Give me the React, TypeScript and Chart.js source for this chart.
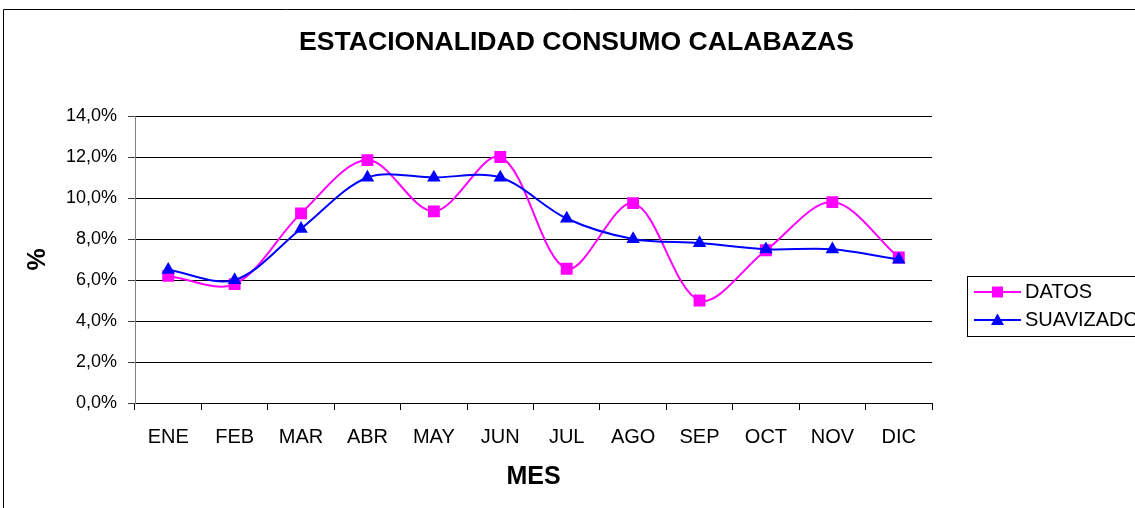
import React, { useEffect, useRef } from "react";
import { Chart, registerables } from "chart.js";

Chart.register(...registerables);

const TITLE = "ESTACIONALIDAD CONSUMO CALABAZAS";
const MONTHS = ["ENE", "FEB", "MAR", "ABR", "MAY", "JUN", "JUL", "AGO", "SEP", "OCT", "NOV", "DIC"];
const DATOS = [6.2, 5.8, 9.25, 11.85, 9.35, 12.0, 6.55, 9.75, 5.0, 7.45, 9.8, 7.1];
const SUAVIZADO = [6.5, 6.0, 8.5, 11.0, 11.0, 11.0, 9.0, 8.0, 7.8, 7.5, 7.5, 7.0];
const SERIES_NAMES = ["DATOS", "SUAVIZADO"];
const SERIES_COLORS = ["#FF00FF", "#0000FF"];
const X_TITLE = "MES";
const Y_TITLE = "%";

const FONT = "'Liberation Sans', Arial, sans-serif";

const decorPlugin = {
  id: "decor",
  afterDraw(chart: any) {
    const ctx = chart.ctx;
    ctx.save();
    // outer frame
    ctx.strokeStyle = "#000";
    ctx.lineWidth = 1;
    ctx.beginPath();
    ctx.moveTo(3.5, 520);
    ctx.lineTo(3.5, 9.5);
    ctx.lineTo(1140, 9.5);
    ctx.stroke();
    // title
    ctx.fillStyle = "#000";
    ctx.font = "bold 26.6px " + FONT;
    ctx.textAlign = "center";
    ctx.textBaseline = "alphabetic";
    ctx.fillText(TITLE, 576.5, 50);
    // legend
    ctx.strokeStyle = "#000";
    ctx.lineWidth = 1;
    ctx.strokeRect(967.5, 276.5, 200, 60);
    const rows = [292, 320];
    SERIES_NAMES.forEach((name, i) => {
      const y = rows[i];
      ctx.strokeStyle = SERIES_COLORS[i];
      ctx.lineWidth = 2;
      ctx.beginPath();
      ctx.moveTo(974, y);
      ctx.lineTo(1021, y);
      ctx.stroke();
      ctx.fillStyle = SERIES_COLORS[i];
      ctx.beginPath();
      if (i === 0) {
        ctx.rect(997.5 - 5.5, y - 5.5, 11, 11);
      } else {
        ctx.moveTo(997.5, y - 6.5);
        ctx.lineTo(997.5 + 6.5, y + 5);
        ctx.lineTo(997.5 - 6.5, y + 5);
        ctx.closePath();
      }
      ctx.fill();
      ctx.fillStyle = "#000";
      ctx.font = "20px " + FONT;
      ctx.textAlign = "left";
      ctx.textBaseline = "middle";
      ctx.fillText(name, 1025, y + 0.5);
    });
    ctx.restore();
  },
};

export default function App() {
  const ref = useRef<HTMLCanvasElement | null>(null);
  useEffect(() => {
    if (!ref.current) return;
    Chart.defaults.font.family = FONT;
    const chart = new Chart(ref.current, {
      type: "line",
      data: {
        labels: MONTHS,
        datasets: [
          {
            label: SERIES_NAMES[0],
            data: DATOS,
            borderColor: SERIES_COLORS[0],
            backgroundColor: SERIES_COLORS[0],
            borderWidth: 2,
            pointStyle: "rect",
            pointRadius: 8.4,
            pointBorderWidth: 0,
            tension: 0.33,
            order: 1,
          },
          {
            label: SERIES_NAMES[1],
            data: SUAVIZADO,
            borderColor: SERIES_COLORS[1],
            backgroundColor: SERIES_COLORS[1],
            borderWidth: 2,
            pointStyle: "triangle",
            pointRadius: 7.8,
            pointBorderWidth: 0,
            tension: 0.33,
            order: 0,
          },
        ],
      },
      options: {
        responsive: false,
        animation: false,
        devicePixelRatio: 1,
        layout: { padding: { left: 0, top: 116, right: 203, bottom: 0 } },
        plugins: {
          legend: { display: false },
          title: { display: false },
          tooltip: { enabled: false },
        },
        scales: {
          x: {
            offset: true,
            afterFit: (s: any) => {
              s.height = 105;
            },
            grid: {
              offset: true,
              drawOnChartArea: false,
              drawTicks: true,
              tickLength: 7,
              color: "#000",
            },
            border: { color: "#000", width: 1 },
            ticks: {
              color: "#000",
              font: { size: 20, family: FONT },
              padding: 15,
              maxRotation: 0,
              autoSkip: false,
            },
            title: {
              display: true,
              text: X_TITLE,
              color: "#000",
              font: { size: 25, weight: "bold", family: FONT },
              padding: { top: 0, bottom: 16 },
            },
          },
          y: {
            min: 0,
            max: 14,
            afterFit: (s: any) => {
              s.width = 135;
            },
            grid: {
              color: "#000",
              tickColor: "#404040",
              tickLength: 7,
              drawTicks: true,
            },
            border: { color: "#808080", width: 1 },
            ticks: {
              stepSize: 2,
              color: "#000",
              font: { size: 18, family: FONT },
              padding: 11,
              callback: (v: any) => Number(v).toFixed(1).replace(".", ",") + "%",
            },
            title: {
              display: true,
              text: Y_TITLE,
              color: "#000",
              font: { size: 25, weight: "bold", family: FONT },
              padding: { top: 23, bottom: 0 },
            },
          },
        },
      },
      plugins: [decorPlugin],
    });
    return () => chart.destroy();
  }, []);
  return (
    <div style={{ position: "absolute", left: 0, top: 0, width: 1135, height: 508, background: "#fff" }}>
      <canvas ref={ref} width={1135} height={508} style={{ width: 1135, height: 508 }} />
    </div>
  );
}
